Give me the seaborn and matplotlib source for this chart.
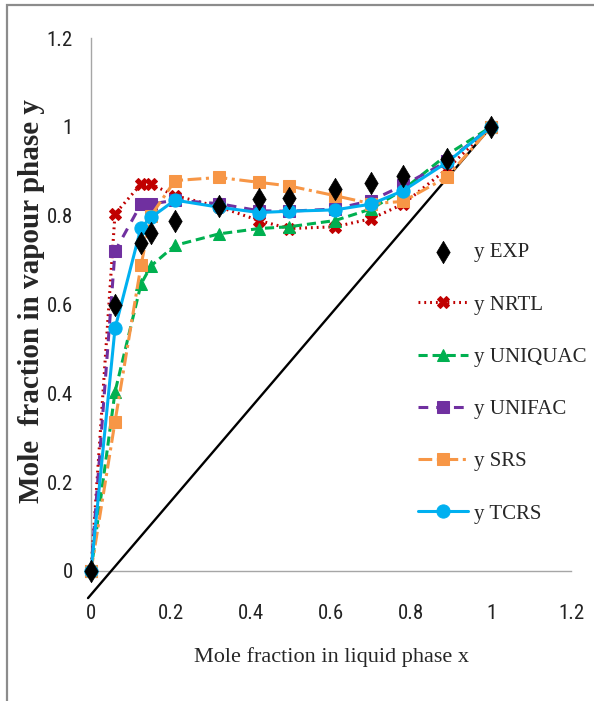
import numpy as np
import pandas as pd
import matplotlib
matplotlib.use('Agg')
import matplotlib.pyplot as plt
from matplotlib import font_manager as fm
from matplotlib.patches import Rectangle
import seaborn as sns

# data
x_liq = [0, 0.06, 0.125, 0.15, 0.21, 0.32, 0.42, 0.495, 0.61, 0.70, 0.78, 0.89, 1.0]
y_exp = [0, 0.598, 0.738, 0.762, 0.789, 0.821, 0.838, 0.839, 0.86, 0.873, 0.89, 0.928, 1.0]
y_nrtl = [0, 0.804, 0.871, 0.871, 0.845, 0.82, 0.789, 0.771, 0.775, 0.793, 0.826, 0.905, 1.0]
y_uniquac = [0, 0.403, 0.646, 0.687, 0.733, 0.759, 0.771, 0.775, 0.789, 0.815, 0.858, 0.937, 1.0]
y_unifac = [0, 0.72, 0.826, 0.826, 0.835, 0.827, 0.811, 0.81, 0.815, 0.834, 0.868, 0.922, 1.0]
y_srs = [0, 0.336, 0.688, 0.80, 0.879, 0.886, 0.875, 0.867, 0.845, 0.827, 0.832, 0.887, 1.0]
y_tcrs = [0, 0.546, 0.773, 0.796, 0.835, 0.819, 0.807, 0.81, 0.813, 0.826, 0.856, 0.92, 1.0]

# straight reference line
diag_x = [-0.0075, 1.0]
diag_y = [-0.061, 1.0]

ticks = [0, 0.2, 0.4, 0.6, 0.8, 1, 1.2]
tick_labels = ['0', '0.2', '0.4', '0.6', '0.8', '1', '1.2']

df = pd.DataFrame({'x': x_liq, 'y EXP': y_exp, 'y NRTL': y_nrtl,
                   'y UNIQUAC': y_uniquac, 'y UNIFAC': y_unifac,
                   'y SRS': y_srs, 'y TCRS': y_tcrs})

sns.set_style('white')
serif = ['Liberation Serif', 'DejaVu Serif']
plt.rcParams['font.family'] = serif


def narrow_sans(size):
    # look for a condensed sans face, else a plain one at a smaller size
    want = ['Liberation Sans Narrow', 'Roboto Condensed', 'Open Sans Condensed',
            'Noto Sans Condensed', 'DejaVu Sans Condensed']
    fonts = fm.fontManager.ttflist
    for w in want:
        for f in fonts:
            if f.name == w and f.weight in ('normal', 400, 'regular', 'book') and 'Italic' not in f.fname:
                return fm.FontProperties(fname=f.fname, size=size)
    for f in fonts:
        st = str(f.stretch)
        if f.name in ('Noto Sans', 'DejaVu Sans', 'Roboto', 'Open Sans') and 'condensed' in st \
                and 'extra' not in st and 'ultra' not in st and f.style == 'normal' \
                and f.weight in ('normal', 400, 'regular', 'book'):
            return fm.FontProperties(fname=f.fname, size=size)
    return fm.FontProperties(family='Liberation Sans', size=size - 2)


tick_fp = narrow_sans(15)

fig = plt.figure(figsize=(5.94, 7.01), dpi=100)
ax = fig.add_axes([91 / 594, 1 - 571 / 701, 480 / 594, 533 / 701])

ax.plot(diag_x, diag_y, color='black', lw=1.7, clip_on=False, zorder=2)

models = [
    ('y NRTL', '#C00000', (0, (0.6, 1.3)), 'X', 9),
    ('y UNIQUAC', '#00B050', (0, (3, 1.6)), '^', 9),
    ('y UNIFAC', '#7030A0', (0, (3.2, 2.6)), 's', 9),
    ('y SRS', '#F79646', (0, (4.5, 1.5, 1, 1.5)), 's', 9),
    ('y TCRS', '#00B0F0', '-', 'o', 9.5),
]

sns.scatterplot(data=df, x='x', y='y EXP', marker='d', s=130, color='black',
                edgecolor='black', linewidth=0.5, ax=ax, label='y EXP',
                zorder=10, clip_on=False)

for name, col, ls, mk, ms in models:
    sns.lineplot(data=df, x='x', y=name, color=col, linestyle=ls, lw=2.2,
                 marker=mk, markersize=ms, markeredgecolor=col, ax=ax,
                 label=name, clip_on=False, zorder=4)

ax.set_xlim(0, 1.2)
ax.set_ylim(0, 1.2)
ax.set_xticks(ticks)
ax.set_yticks(ticks)
ax.set_xticklabels(tick_labels, fontproperties=tick_fp, color='#222222')
ax.set_yticklabels(tick_labels, fontproperties=tick_fp, color='#222222')

for s in ['top', 'right']:
    ax.spines[s].set_visible(False)
for s in ['left', 'bottom']:
    ax.spines[s].set_color('#a6a6a6')
    ax.spines[s].set_linewidth(1.0)
    ax.spines[s].set_zorder(1)
ax.tick_params(axis='x', direction='out', length=8, width=1, color='#a6a6a6', pad=16)
ax.tick_params(axis='y', direction='out', length=5, width=1, color='#a6a6a6', pad=8)

ax.set_xlabel('Mole fraction in liquid phase x', fontsize=16)
ax.set_ylabel('Mole  fraction in vapour phase y', fontsize=21, fontweight='bold')
ax.xaxis.set_label_coords(0.5, -0.1614)
ax.yaxis.set_label_coords(-0.123, 0.5066)
ax.xaxis.label.set_va('center')
ax.yaxis.label.set_va('center')

leg = ax.legend(loc='upper left', bbox_to_anchor=(0.681, 0.616), frameon=False,
                fontsize=15, handlelength=2.4, handletextpad=0.27,
                labelspacing=1.57, borderpad=0, borderaxespad=0)

# the grey picture frame (only top and left visible)
fig.add_artist(Rectangle((7 / 594, -0.05), 1.1, 1 - 5 / 701 + 0.05,
                         transform=fig.transFigure, fill=False,
                         edgecolor='#8c8c8c', lw=1.6))

fig.savefig('out.png', dpi=100)
